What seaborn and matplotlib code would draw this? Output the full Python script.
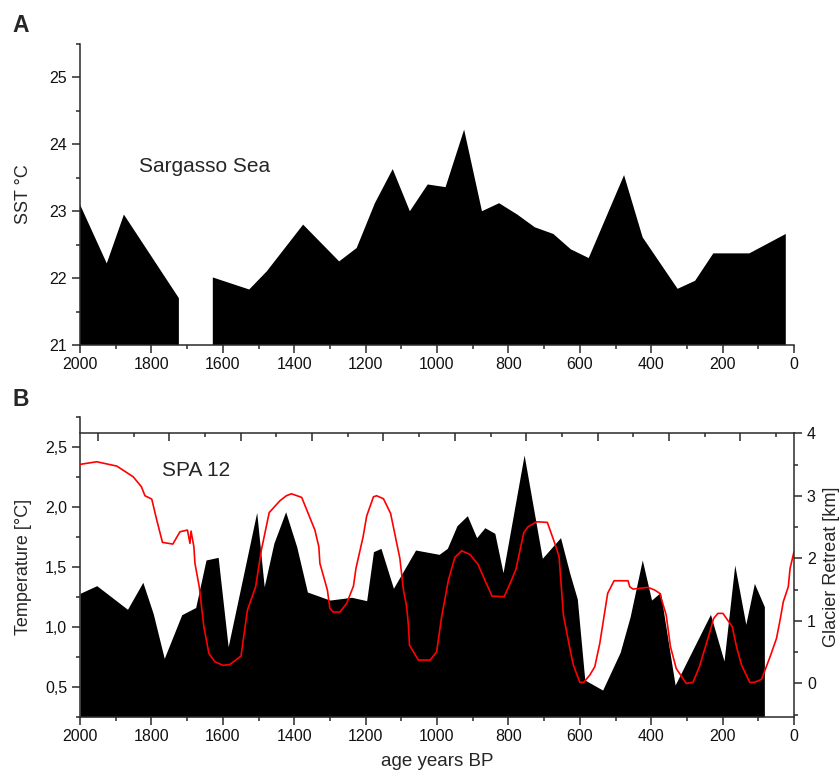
import numpy as np
import pandas as pd
import matplotlib
matplotlib.use("Agg")
import matplotlib.pyplot as plt
import seaborn as sns
from matplotlib.ticker import MultipleLocator, FixedLocator, FuncFormatter

# ---------------- data ----------------
# Panel A: Sargasso Sea SST (NaN = gap in record)
sst_age = [2000, 1925, 1877, 1723, 1675, 1628, 1526, 1477, 1375, 1274, 1225, 1174, 1124,
           1076, 1026, 976, 924, 874, 826, 775, 726, 674, 625, 575, 476, 424, 326, 277,
           226, 125, 23]
sst_val = [23.10, 22.22, 22.95, 21.70, np.nan, 22.01, 21.83, 22.10, 22.80, 22.25, 22.45,
           23.12, 23.63, 23.00, 23.40, 23.36, 24.22, 23.00, 23.12, 22.95, 22.76, 22.66,
           22.43, 22.30, 23.54, 22.61, 21.84, 21.96, 22.37, 22.37, 22.66]

# Panel B: SPA 12 temperature
spa_age = [2000, 1953, 1867, 1824, 1795, 1764, 1715, 1676, 1647, 1613, 1585, 1505, 1484,
           1457, 1424, 1393, 1363, 1300, 1239, 1197, 1178, 1157, 1122, 1060, 994, 971,
           944, 915, 889, 866, 838, 815, 756, 705, 654, 628, 607, 586, 536, 487, 459,
           425, 399, 374, 333, 234, 196, 166, 135, 111, 83]
spa_val = [1.278, 1.342, 1.145, 1.370, 1.110, 0.736, 1.100, 1.160, 1.556, 1.578, 0.833,
           1.953, 1.333, 1.695, 1.958, 1.667, 1.289, 1.222, 1.245, 1.217, 1.625, 1.653,
           1.320, 1.639, 1.603, 1.653, 1.842, 1.925, 1.742, 1.825, 1.778, 1.450, 2.431,
           1.570, 1.742, 1.444, 1.231, 0.556, 0.472, 0.786, 1.083, 1.556, 1.222, 1.286,
           0.514, 1.103, 0.714, 1.514, 1.020, 1.361, 1.167]

# Panel B: glacier retreat (km)
gl_age = [2000, 1953, 1897, 1851, 1828, 1818, 1799, 1785, 1769, 1740, 1720, 1699, 1692,
          1689, 1681, 1678, 1666, 1653, 1639, 1622, 1599, 1580, 1549, 1531, 1508, 1492,
          1470, 1440, 1422, 1408, 1379, 1342, 1331, 1328, 1307, 1300, 1291, 1272, 1253,
          1234, 1227, 1207, 1197, 1178, 1169, 1150, 1130, 1104, 1094, 1085, 1080, 1077,
          1052, 1019, 1001, 987, 968, 950, 931, 908, 885, 866, 846, 812, 796, 779, 757,
          745, 721, 691, 670, 658, 646, 626, 618, 600, 589, 572, 558, 544, 522, 504,
          465, 460, 451, 427, 409, 390, 376, 358, 346, 330, 302, 283, 265, 241, 225,
          213, 199, 173, 161, 147, 124, 111, 91, 67, 49, 39, 30, 16, 11, 0]
gl_val = [3.504, 3.546, 3.477, 3.306, 3.146, 3.002, 2.949, 2.613, 2.256, 2.229, 2.426,
          2.453, 2.240, 2.437, 2.186, 1.920, 1.546, 0.906, 0.480, 0.346, 0.288, 0.304,
          0.437, 1.173, 1.546, 2.133, 2.733, 2.922, 3.002, 3.034, 2.976, 2.453, 2.186,
          1.920, 1.493, 1.200, 1.141, 1.141, 1.280, 1.557, 1.840, 2.346, 2.677, 2.986,
          3.002, 2.954, 2.720, 2.000, 1.493, 1.226, 0.925, 0.610, 0.373, 0.373, 0.506,
          1.066, 1.653, 2.016, 2.122, 2.064, 1.904, 1.653, 1.397, 1.386, 1.589, 1.824,
          2.410, 2.506, 2.586, 2.576, 2.240, 2.026, 1.093, 0.506, 0.293, 0.016, 0.016,
          0.133, 0.267, 0.640, 1.440, 1.642, 1.642, 1.546, 1.509, 1.525, 1.536, 1.493,
          1.440, 1.093, 0.586, 0.240, 0.000, 0.016, 0.267, 0.720, 1.040, 1.120, 1.120,
          0.906, 0.586, 0.293, 0.016, 0.016, 0.064, 0.426, 0.720, 1.013, 1.306, 1.546,
          1.840, 2.106]

x_ticks = [2000, 1800, 1600, 1400, 1200, 1000, 800, 600, 400, 200, 0]

assert len(sst_age) == len(sst_val)
assert len(spa_age) == len(spa_val)
assert len(gl_age) == len(gl_val)

sst = pd.DataFrame({"age": sst_age, "sst": sst_val})
spa = pd.DataFrame({"age": spa_age, "temp": spa_val})
gl = pd.DataFrame({"age": gl_age, "retreat": gl_val})

# ---------------- style ----------------
sns.set_theme(style="ticks")
plt.rcParams["font.family"] = ["Liberation Sans", "DejaVu Sans"]
SPINE = "#2a2a2a"
plt.rcParams.update({
    "axes.linewidth": 1.1,
    "axes.edgecolor": SPINE,
    "xtick.color": SPINE,
    "ytick.color": SPINE,
    "xtick.labelcolor": "#111111",
    "ytick.labelcolor": "#111111",
    "xtick.major.width": 1.1, "ytick.major.width": 1.1,
    "xtick.minor.width": 1.1, "ytick.minor.width": 1.1,
    "xtick.major.size": 5.8, "ytick.major.size": 5.8,
    "xtick.minor.size": 2.9, "ytick.minor.size": 2.9,
    "xtick.direction": "out", "ytick.direction": "out",
    "xtick.major.pad": 3.0, "ytick.major.pad": 3.5,
    "xtick.labelsize": 11.5, "ytick.labelsize": 11.5,
})

W, H = 839, 773
fig = plt.figure(figsize=(W / 100, H / 100), dpi=100)

def px_axes(left, top, right, bottom):
    return fig.add_axes([left / W, 1 - bottom / H, (right - left) / W, (bottom - top) / H])

# ---------------- Panel A ----------------
axA = px_axes(80, 44, 794, 345)
axA.fill_between(sst["age"], 21, sst["sst"], color="black", lw=0)
axA.set_xlim(2000, 0)
axA.set_ylim(21, 25.5)
axA.xaxis.set_major_locator(FixedLocator(x_ticks))
axA.xaxis.set_minor_locator(MultipleLocator(100))
axA.yaxis.set_major_locator(FixedLocator([21, 22, 23, 24, 25]))
axA.yaxis.set_minor_locator(MultipleLocator(0.5))
axA.spines["top"].set_visible(False)
axA.spines["right"].set_visible(False)
axA.set_xlabel("")
axA.set_ylabel("SST °C", fontsize=13)
axA.yaxis.set_label_coords((32 - 80) / 714, 0.5)
axA.text(1834.7, 23.58, "Sargasso Sea", fontsize=15, ha="left", va="baseline")

# ---------------- Panel B ----------------
axB = px_axes(80, 416.7, 794, 716.7)
axB.fill_between(spa["age"], 0.25, spa["temp"], color="black", lw=0)
axB.set_xlim(2000, 0)
axB.set_ylim(0.25, 2.75)
axB.xaxis.set_major_locator(FixedLocator(x_ticks))
axB.xaxis.set_minor_locator(MultipleLocator(100))
axB.yaxis.set_major_locator(FixedLocator([0.5, 1.0, 1.5, 2.0, 2.5]))
axB.yaxis.set_minor_locator(FixedLocator([0.25, 0.75, 1.25, 1.75, 2.25, 2.75]))
axB.yaxis.set_major_formatter(FuncFormatter(lambda v, p: f"{v:.1f}".replace(".", ",")))
axB.spines["top"].set_visible(False)
axB.spines["right"].set_visible(False)
axB.set_ylabel("Temperature [°C]", fontsize=13)
axB.yaxis.set_label_coords((32 - 80) / 714, 0.5)
axB.set_xlabel("age years BP", fontsize=13.5)
axB.xaxis.set_label_coords(0.5, -0.122)
axB.text(1769.5, 2.258, "SPA 12", fontsize=15, ha="left", va="baseline")

# glacier retreat on right axis
axR = axB.twinx()
sns.lineplot(data=gl, x="age", y="retreat", ax=axR, color="red", lw=1.2,
             sort=False, estimator=None)
axR.set_xlim(2000, 0)
axR.set_ylim(-0.533, 4.267)
axR.yaxis.set_major_locator(FixedLocator([0, 1, 2, 3, 4]))
axR.yaxis.set_minor_locator(FixedLocator([-0.5, 0.5, 1.5, 2.5, 3.5]))
for s in ("left", "top", "bottom"):
    axR.spines[s].set_visible(False)
axR.spines["right"].set_bounds(-0.533, 4.0)
axR.set_xlabel("")
axR.set_ylabel("Glacier Retreat [km]", fontsize=13)
axR.yaxis.set_label_coords((823 - 80) / 714, 0.5)

# top frame line with inward ticks
axT = axB.twiny()
axT.set_xlim(2000, 0)
for s in ("left", "right", "bottom"):
    axT.spines[s].set_visible(False)
axT.spines["top"].set_position(("axes", 0.947))
axT.xaxis.set_major_locator(FixedLocator(np.arange(150, 2000, 200)))
axT.xaxis.set_minor_locator(FixedLocator(np.arange(50, 2000, 200)))
axT.tick_params(axis="x", which="both", direction="in", labeltop=False, top=True, bottom=False)

# panel letters
fig.text(12 / W, 1 - 32 / H, "A", fontsize=16.5, fontweight="bold", va="baseline")
fig.text(12 / W, 1 - 406 / H, "B", fontsize=16.5, fontweight="bold", va="baseline")

fig.savefig("out.png", dpi=100)
